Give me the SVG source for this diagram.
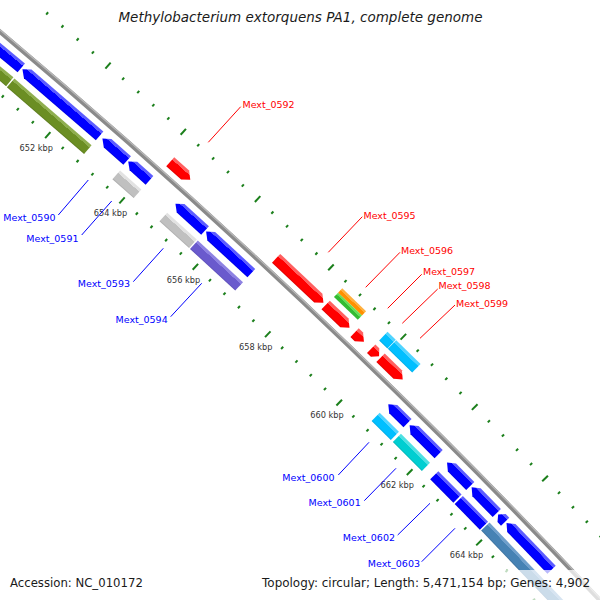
<svg xmlns="http://www.w3.org/2000/svg" width="600" height="600" viewBox="0 0 600 600">
<style>
.lb{font-family:"DejaVu Sans",sans-serif;font-size:9.5px}
.rt{fill:#ff0000}
.bt{fill:#0000ff}
.rl{stroke:#ff0000;stroke-width:1;fill:none}
.bl{stroke:#0000ff;stroke-width:1;fill:none}
.tk{font-family:"DejaVu Sans",sans-serif;font-size:8.2px;fill:#333333;text-anchor:middle}
.hd{font-family:"DejaVu Sans",sans-serif;fill:#1a1a1a}
.tick{fill:#1b7f1b}
</style>
<defs>
<linearGradient id="gB" x1="0" y1="0" x2="0" y2="1"><stop offset="0" stop-color="#5c5cff"/><stop offset="0.26" stop-color="#5c5cff"/><stop offset="0.27" stop-color="#0000ff"/><stop offset="0.88" stop-color="#0000ff"/><stop offset="1" stop-color="#0000d8"/></linearGradient>
<linearGradient id="gR" x1="0" y1="0" x2="0" y2="1"><stop offset="0" stop-color="#ff6060"/><stop offset="0.26" stop-color="#ff6060"/><stop offset="0.27" stop-color="#ff0000"/><stop offset="0.88" stop-color="#ff0000"/><stop offset="1" stop-color="#d80000"/></linearGradient>
<linearGradient id="gO" x1="0" y1="0" x2="0" y2="1"><stop offset="0" stop-color="#8fae4f"/><stop offset="0.26" stop-color="#8fae4f"/><stop offset="0.27" stop-color="#6b8e23"/><stop offset="0.88" stop-color="#6b8e23"/><stop offset="1" stop-color="#5a781d"/></linearGradient>
<linearGradient id="gG" x1="0" y1="0" x2="0" y2="1"><stop offset="0" stop-color="#e2e2e2"/><stop offset="0.26" stop-color="#e2e2e2"/><stop offset="0.27" stop-color="#c0c0c0"/><stop offset="0.88" stop-color="#c0c0c0"/><stop offset="1" stop-color="#a8a8a8"/></linearGradient>
<linearGradient id="gP" x1="0" y1="0" x2="0" y2="1"><stop offset="0" stop-color="#8e82e2"/><stop offset="0.26" stop-color="#8e82e2"/><stop offset="0.27" stop-color="#6a5acd"/><stop offset="0.88" stop-color="#6a5acd"/><stop offset="1" stop-color="#5a4cb4"/></linearGradient>
<linearGradient id="gC" x1="0" y1="0" x2="0" y2="1"><stop offset="0" stop-color="#50d4ff"/><stop offset="0.26" stop-color="#50d4ff"/><stop offset="0.27" stop-color="#00bfff"/><stop offset="0.88" stop-color="#00bfff"/><stop offset="1" stop-color="#00a6de"/></linearGradient>
<linearGradient id="gT" x1="0" y1="0" x2="0" y2="1"><stop offset="0" stop-color="#4ee0e2"/><stop offset="0.26" stop-color="#4ee0e2"/><stop offset="0.27" stop-color="#00ced1"/><stop offset="0.88" stop-color="#00ced1"/><stop offset="1" stop-color="#00b2b4"/></linearGradient>
<linearGradient id="gS" x1="0" y1="0" x2="0" y2="1"><stop offset="0" stop-color="#6f9fcb"/><stop offset="0.26" stop-color="#6f9fcb"/><stop offset="0.27" stop-color="#4682b4"/><stop offset="0.88" stop-color="#4682b4"/><stop offset="1" stop-color="#3c709b"/></linearGradient>
<linearGradient id="gOr" x1="0" y1="0" x2="0" y2="1"><stop offset="0" stop-color="#ffb040"/><stop offset="0.4" stop-color="#ffb040"/><stop offset="0.41" stop-color="#ff9000"/><stop offset="1" stop-color="#ff9000"/></linearGradient>
<linearGradient id="gGr" x1="0" y1="0" x2="0" y2="1"><stop offset="0" stop-color="#66dd55"/><stop offset="0.4" stop-color="#66dd55"/><stop offset="0.41" stop-color="#33bb33"/><stop offset="1" stop-color="#33bb33"/></linearGradient>
<g id="tn" class="tick"><rect x="-1" y="-7046" width="2" height="3"/><rect x="-1" y="-6954" width="2" height="3"/></g>
<g id="tj" class="tick"><rect x="-1" y="-7048.5" width="2" height="8"/><rect x="-1" y="-6956.5" width="2" height="8"/></g>
</defs>
<rect width="600" height="600" fill="#ffffff"/>
<g transform="translate(-4506.6 5388.2)">
<g id="backbone">
<circle r="7000" fill="none" stroke="#8a8a8a" stroke-width="4.5"/>
<circle r="7001.4" fill="none" stroke="#b8b8b8" stroke-width="1.2"/>
</g>
<g id="ticks">
<use href="#tn" transform="rotate(40.2726)"/>
<use href="#tn" transform="rotate(40.4357)"/>
<use href="#tn" transform="rotate(40.5987)"/>
<use href="#tn" transform="rotate(40.7618)"/>
<use href="#tj" transform="rotate(40.9248)"/>
<use href="#tn" transform="rotate(41.0879)"/>
<use href="#tn" transform="rotate(41.2509)"/>
<use href="#tn" transform="rotate(41.4140)"/>
<use href="#tn" transform="rotate(41.5771)"/>
<use href="#tj" transform="rotate(41.7401)"/>
<use href="#tn" transform="rotate(41.9032)"/>
<use href="#tn" transform="rotate(42.0662)"/>
<use href="#tn" transform="rotate(42.2293)"/>
<use href="#tn" transform="rotate(42.3923)"/>
<use href="#tj" transform="rotate(42.5554)"/>
<use href="#tn" transform="rotate(42.7184)"/>
<use href="#tn" transform="rotate(42.8815)"/>
<use href="#tn" transform="rotate(43.0445)"/>
<use href="#tn" transform="rotate(43.2076)"/>
<use href="#tj" transform="rotate(43.3706)"/>
<use href="#tn" transform="rotate(43.5337)"/>
<use href="#tn" transform="rotate(43.6967)"/>
<use href="#tn" transform="rotate(43.8598)"/>
<use href="#tn" transform="rotate(44.0228)"/>
<use href="#tj" transform="rotate(44.1859)"/>
<use href="#tn" transform="rotate(44.3489)"/>
<use href="#tn" transform="rotate(44.5120)"/>
<use href="#tn" transform="rotate(44.6750)"/>
<use href="#tn" transform="rotate(44.8381)"/>
<use href="#tj" transform="rotate(45.0011)"/>
<use href="#tn" transform="rotate(45.1642)"/>
<use href="#tn" transform="rotate(45.3272)"/>
<use href="#tn" transform="rotate(45.4903)"/>
<use href="#tn" transform="rotate(45.6533)"/>
<use href="#tj" transform="rotate(45.8164)"/>
<use href="#tn" transform="rotate(45.9794)"/>
<use href="#tn" transform="rotate(46.1425)"/>
<use href="#tn" transform="rotate(46.3056)"/>
<use href="#tn" transform="rotate(46.4686)"/>
<use href="#tj" transform="rotate(46.6317)"/>
</g>
<g id="tick-labels">
<g transform="rotate(40.9248) translate(0,-6935) rotate(-40.9248)"><text class="tk" y="3">652 kbp</text></g>
<g transform="rotate(41.7401) translate(0,-6935) rotate(-41.7401)"><text class="tk" y="3">654 kbp</text></g>
<g transform="rotate(42.5554) translate(0,-6935) rotate(-42.5554)"><text class="tk" y="3">656 kbp</text></g>
<g transform="rotate(43.3706) translate(0,-6935) rotate(-43.3706)"><text class="tk" y="3">658 kbp</text></g>
<g transform="rotate(44.1859) translate(0,-6935) rotate(-44.1859)"><text class="tk" y="3">660 kbp</text></g>
<g transform="rotate(45.0011) translate(0,-6935) rotate(-45.0011)"><text class="tk" y="3">662 kbp</text></g>
<g transform="rotate(45.8164) translate(0,-6935) rotate(-45.8164)"><text class="tk" y="3">664 kbp</text></g>
</g>
<g id="gene-prev2" transform="rotate(39.7396) translate(0,-7000)"><path fill="url(#gB)" d="M-80.5,14.25 L-73.5,8.5 H80.5 V20 H-73.5Z"/><rect fill="url(#gO)" x="-80.5" y="26.5" width="161" height="11.5"/></g>
<g id="gene-prev1" transform="rotate(40.8323) translate(0,-7000)"><path fill="url(#gB)" d="M-51,14.25 L-44,8.5 H51 V20 H-44Z"/><rect fill="url(#gO)" x="-51" y="26.5" width="102" height="11.5"/></g>
<g id="Mext_0590" transform="rotate(41.4176) translate(0,-7000)"><path fill="url(#gB)" d="M-16.5,14.25 L-9.5,8.5 H16.5 V20 H-9.5Z"/></g>
<g id="Mext_0591" transform="rotate(41.6816) translate(0,-7000)"><path fill="url(#gB)" d="M-14.25,14.25 L-7.25,8.5 H14.25 V20 H-7.25Z"/><rect fill="url(#gG)" x="-14.25" y="26.5" width="28.5" height="11.5"/></g>
<g id="Mext_0592" transform="rotate(41.9333) translate(0,-7000)"><path fill="url(#gR)" d="M-13.5,-19.5 H6.5 L13.5,-13.5 L6.5,-7.5 H-13.5Z"/></g>
<g id="Mext_0593" transform="rotate(42.2484) translate(0,-7000)"><path fill="url(#gB)" d="M-20,14.25 L-13,8.5 H20 V20 H-13Z"/><rect fill="url(#gG)" x="-20" y="26.5" width="40" height="11.5"/></g>
<g id="Mext_0594" transform="rotate(42.6761) translate(0,-7000)"><path fill="url(#gB)" d="M-30.75,14.25 L-23.75,8.5 H30.75 V20 H-23.75Z"/><rect fill="url(#gP)" x="-30.75" y="26.5" width="61.5" height="11.5"/></g>
<g id="Mext_0595" transform="rotate(43.2593) translate(0,-7000)"><path fill="url(#gR)" d="M-32.5,-19.5 H25.5 L32.5,-13.5 L25.5,-7.5 H-32.5Z"/></g>
<g id="Mext_0596" transform="rotate(43.6849) translate(0,-7000)"><path fill="url(#gR)" d="M-16.5,-19.5 H9.5 L16.5,-13.5 L9.5,-7.5 H-16.5Z"/><rect fill="url(#gOr)" x="-16" y="-37" width="33" height="6"/><rect fill="url(#gGr)" x="-16" y="-31" width="33" height="6"/></g>
<g id="Mext_0597" transform="rotate(43.9305) translate(0,-7000)"><path fill="url(#gR)" d="M-6.5,-19.5 H-0.5 L6.5,-13.5 L-0.5,-7.5 H-6.5Z"/></g>
<g id="Mext_0598" transform="rotate(44.1106) translate(0,-7000)"><path fill="url(#gR)" d="M-5.5,-19.5 H0 L5.5,-13.5 L0,-7.5 H-5.5Z"/><rect fill="url(#gC)" x="-5.5" y="-37" width="11.5" height="12"/></g>
<g id="Mext_0599" transform="rotate(44.2988) translate(0,-7000)"><path fill="url(#gR)" d="M-15.5,-19.5 H8.5 L15.5,-13.5 L8.5,-7.5 H-15.5Z"/><rect fill="url(#gC)" x="-16.5" y="-37" width="34" height="12"/></g>
<g id="Mext_0600" transform="rotate(44.5935) translate(0,-7000)"><path fill="url(#gB)" d="M-13.5,14.25 L-6.5,8.5 H13.5 V20 H-6.5Z"/><rect fill="url(#gC)" x="-13.5" y="26.5" width="27" height="11.5"/></g>
<g id="Mext_0601" transform="rotate(44.8964) translate(0,-7000)"><path fill="url(#gB)" d="M-20.5,14.25 L-13.5,8.5 H20.5 V20 H-13.5Z"/><rect fill="url(#gT)" x="-20.5" y="26.5" width="41" height="11.5"/></g>
<g id="Mext_0602" transform="rotate(45.2975) translate(0,-7000)"><path fill="url(#gB)" d="M-16.5,14.25 L-9.5,8.5 H16.5 V20 H-9.5Z"/><rect fill="url(#gB)" x="-16.5" y="26.5" width="33" height="11.5"/></g>
<g id="Mext_0603" transform="rotate(45.5962) translate(0,-7000)"><path fill="url(#gB)" d="M-18,14.25 L-11,8.5 H18 V20 H-11Z"/><rect fill="url(#gB)" x="-18" y="26.5" width="36" height="11.5"/></g>
<g id="gene-next1" transform="rotate(45.8009) translate(0,-7000)"><path fill="url(#gB)" d="M-5,14.25 L0,8.5 H5 V20 H0Z"/></g>
<g id="gene-next2" transform="rotate(46.1242) translate(0,-7000)"><path fill="url(#gB)" d="M-32.5,14.25 L-25.5,8.5 H32.5 V20 H-25.5Z"/></g>
<g id="gene-next-cog" transform="rotate(46.3902) translate(0,-7000)"><rect fill="url(#gS)" x="-77" y="26.5" width="154" height="11.5"/></g>
</g>
<g id="connectors">
<path class="rl" d="M208.3,142.3 L240.7,106.7"/>
<path class="rl" d="M328.3,252.3 L362.3,216.7"/>
<path class="rl" d="M365.7,287.3 L400,252.3"/>
<path class="rl" d="M387.7,308.3 L421.7,274.3"/>
<path class="rl" d="M402.3,323.3 L437.7,289"/>
<path class="rl" d="M420,338.3 L455,305"/>
<path class="bl" d="M88.3,180 L58.3,215"/>
<path class="bl" d="M111.7,201 L81.7,235"/>
<path class="bl" d="M163.3,248.3 L133.3,281.7"/>
<path class="bl" d="M201.7,283.3 L170.7,316.7"/>
<path class="bl" d="M369,442.3 L338.3,475"/>
<path class="bl" d="M396,468.3 L364.3,500.7"/>
<path class="bl" d="M430,503.3 L397.7,535"/>
<path class="bl" d="M455,528.3 L421.7,561.7"/>
</g>
<g id="labels">
<text class="lb rt" x="242.5" y="108">Mext_0592</text>
<text class="lb rt" x="363.5" y="218.5">Mext_0595</text>
<text class="lb rt" x="401" y="253.5">Mext_0596</text>
<text class="lb rt" x="423" y="274.5">Mext_0597</text>
<text class="lb rt" x="438.5" y="289">Mext_0598</text>
<text class="lb rt" x="456" y="307">Mext_0599</text>
<text class="lb bt" x="55.5" y="221" text-anchor="end">Mext_0590</text>
<text class="lb bt" x="78.5" y="242" text-anchor="end">Mext_0591</text>
<text class="lb bt" x="130" y="287" text-anchor="end">Mext_0593</text>
<text class="lb bt" x="167.7" y="322.5" text-anchor="end">Mext_0594</text>
<text class="lb bt" x="334.5" y="480.5" text-anchor="end">Mext_0600</text>
<text class="lb bt" x="360.7" y="506" text-anchor="end">Mext_0601</text>
<text class="lb bt" x="395" y="540.5" text-anchor="end">Mext_0602</text>
<text class="lb bt" x="420" y="566.5" text-anchor="end">Mext_0603</text>
</g>
<rect x="0" y="570" width="600" height="30" fill="#ffffff" fill-opacity="0.72"/>
<text class="hd" x="300.5" y="22" font-size="13.5" font-style="italic" text-anchor="middle">Methylobacterium extorquens PA1, complete genome</text>
<text class="hd" x="10" y="587" font-size="11.7">Accession: NC_010172</text>
<text class="hd" x="590" y="587" font-size="11.95" text-anchor="end">Topology: circular; Length: 5,471,154 bp; Genes: 4,902</text>
</svg>
